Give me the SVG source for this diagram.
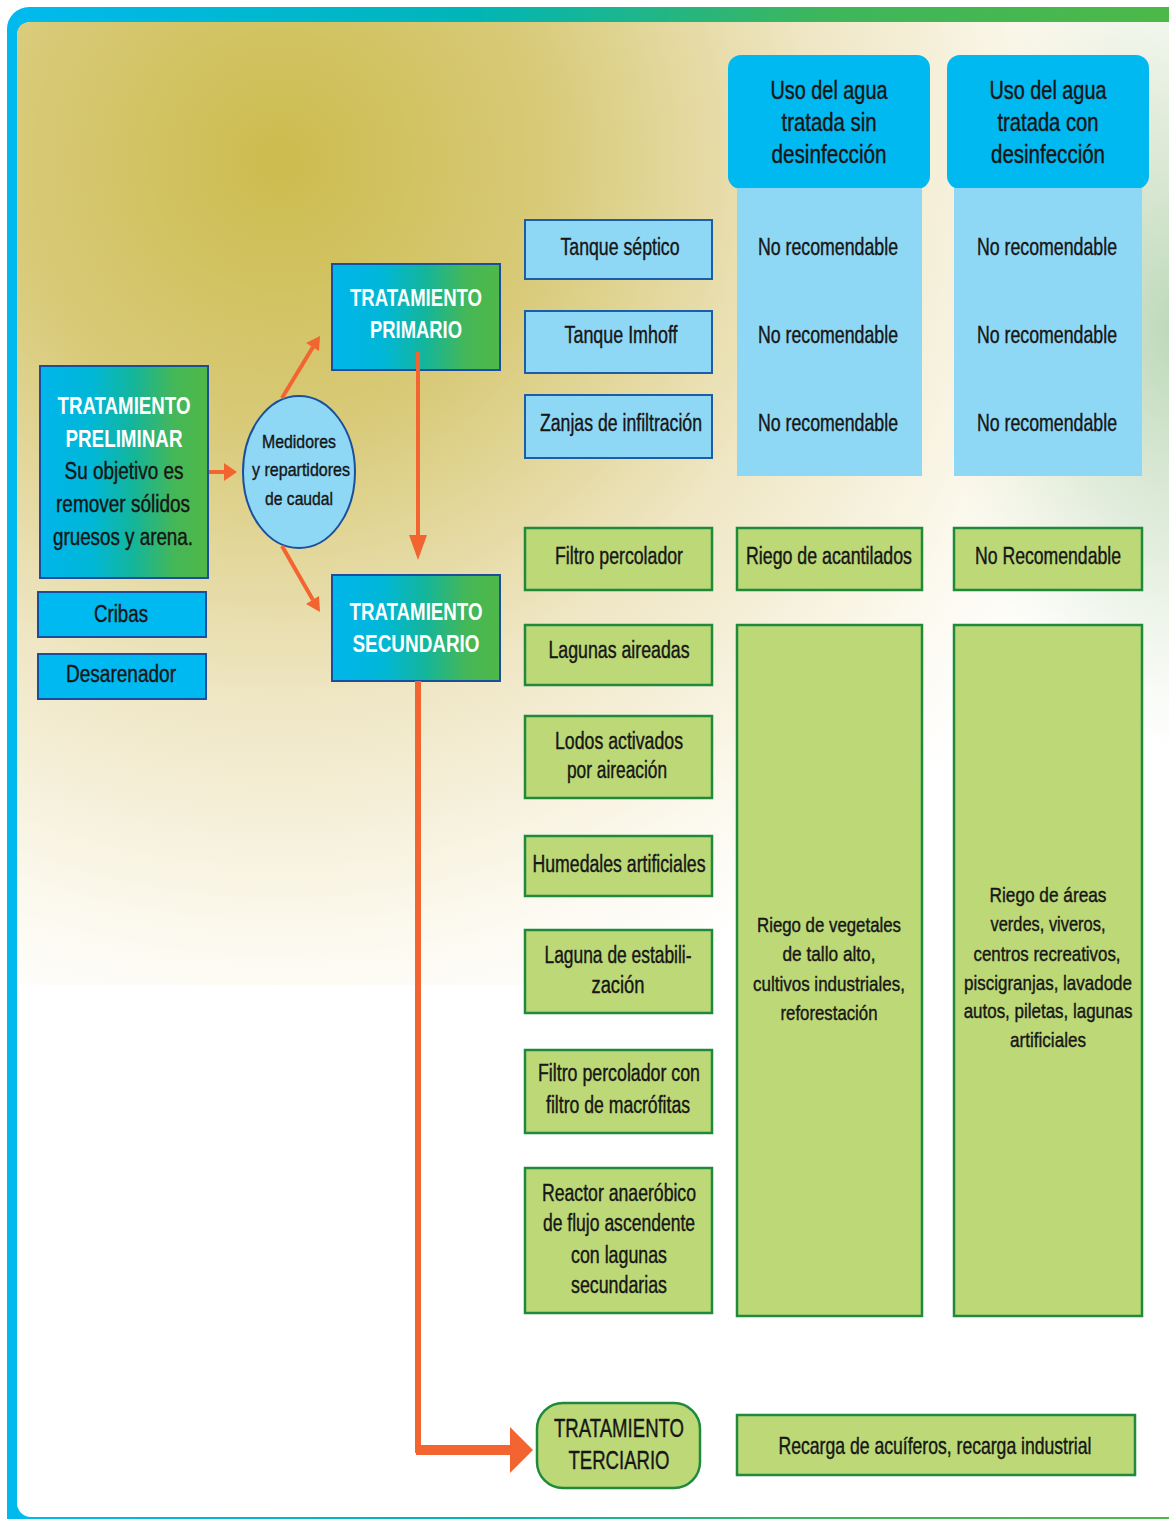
<svg xmlns="http://www.w3.org/2000/svg" width="1169" height="1519" viewBox="0 0 1169 1519">
<defs>
<linearGradient id="frameG" gradientUnits="userSpaceOnUse" x1="0" y1="0" x2="1169" y2="0">
<stop offset="0" stop-color="#00baf0"/>
<stop offset="0.4" stop-color="#00b5b8"/>
<stop offset="0.7" stop-color="#3db65c"/>
<stop offset="1" stop-color="#4cb848"/>
</linearGradient>
<radialGradient id="bgG" gradientUnits="userSpaceOnUse" cx="280" cy="160" r="900">
<stop offset="0" stop-color="#ccbc4e"/>
<stop offset="0.3" stop-color="#d8ca78"/>
<stop offset="0.6" stop-color="#efe6c4"/>
<stop offset="0.85" stop-color="#fbf8ec"/>
<stop offset="1" stop-color="#ffffff"/>
</radialGradient>
<radialGradient id="greenG" gradientUnits="userSpaceOnUse" cx="0" cy="0" r="1" gradientTransform="translate(1175,330) scale(230,420)">
<stop offset="0" stop-color="#9fc79c" stop-opacity="0.7"/>
<stop offset="0.55" stop-color="#b4d0a6" stop-opacity="0.35"/>
<stop offset="1" stop-color="#c8dcb0" stop-opacity="0"/>
</radialGradient>
<linearGradient id="boxG" x1="0" y1="0" x2="1" y2="0">
<stop offset="0" stop-color="#00b6ec"/>
<stop offset="0.3" stop-color="#00b7d8"/>
<stop offset="0.55" stop-color="#13b59c"/>
<stop offset="0.8" stop-color="#45b757"/>
<stop offset="1" stop-color="#4fb848"/>
</linearGradient>
<style>
.t{font-family:'Liberation Sans',Arial,sans-serif;font-size:23px;fill:#161616;stroke:#161616;stroke-width:0.4;text-anchor:middle}
.h{font-size:25px}
.s{font-size:21px}
.m{font-size:19px}
.w{fill:#ffffff;stroke:none;font-weight:bold;font-size:24px}
.lb{fill:#8fd8f5;stroke:#1b5ea6;stroke-width:2}
.gb{fill:#bcd877;stroke:#1f8a3c;stroke-width:2.5}
.tb{fill:url(#boxG);stroke:#1b4f9c;stroke-width:2}
.cb{fill:#00b9f1;stroke:#1b4f9c;stroke-width:2}
.col{fill:#8fd8f5}
.c{fill:none;stroke:#f26530;stroke-width:4}
.ah{fill:#f26530}
</style>
</defs>

<rect x="0" y="0" width="1169" height="1519" fill="#ffffff"/>
<rect id="frame" x="7" y="7" width="1185" height="1535" rx="22" fill="url(#frameG)"/>
<rect x="17" y="22" width="1165" height="1495" rx="14" fill="#ffffff"/>
<path d="M17,36 Q17,22 31,22 L1169,22 L1169,985 L17,985 Z" fill="url(#bgG)"/>
<rect x="900" y="22" width="269" height="760" fill="url(#greenG)"/>

<g id="header-sin">
<rect x="728" y="55" width="202" height="134" rx="13" fill="#00b9f1"/>
<text class="t h" x="829" y="99" textLength="117" lengthAdjust="spacingAndGlyphs">Uso del agua</text>
<text class="t h" x="829" y="131" textLength="95" lengthAdjust="spacingAndGlyphs">tratada sin</text>
<text class="t h" x="829" y="163" textLength="115" lengthAdjust="spacingAndGlyphs">desinfección</text>
</g>
<g id="header-con">
<rect x="947" y="55" width="202" height="134" rx="13" fill="#00b9f1"/>
<text class="t h" x="1048" y="99" textLength="117" lengthAdjust="spacingAndGlyphs">Uso del agua</text>
<text class="t h" x="1048" y="131" textLength="101" lengthAdjust="spacingAndGlyphs">tratada con</text>
<text class="t h" x="1048" y="163" textLength="114" lengthAdjust="spacingAndGlyphs">desinfección</text>
</g>
<g id="col-sin-primario">
<rect class="col" x="737" y="188" width="185" height="288"/>
<text class="t" x="828" y="255" textLength="140" lengthAdjust="spacingAndGlyphs">No recomendable</text>
<text class="t" x="828" y="343" textLength="140" lengthAdjust="spacingAndGlyphs">No recomendable</text>
<text class="t" x="828" y="431" textLength="140" lengthAdjust="spacingAndGlyphs">No recomendable</text>
</g>
<g id="col-con-primario">
<rect class="col" x="954" y="188" width="188" height="288"/>
<text class="t" x="1047" y="255" textLength="140" lengthAdjust="spacingAndGlyphs">No recomendable</text>
<text class="t" x="1047" y="343" textLength="140" lengthAdjust="spacingAndGlyphs">No recomendable</text>
<text class="t" x="1047" y="431" textLength="140" lengthAdjust="spacingAndGlyphs">No recomendable</text>
</g>

<g id="tanque-septico">
<rect class="lb" x="525" y="220" width="187" height="59"/>
<text class="t" x="620" y="255" textLength="119" lengthAdjust="spacingAndGlyphs">Tanque séptico</text>
</g>
<g id="tanque-imhoff">
<rect class="lb" x="525" y="311" width="187" height="62"/>
<text class="t" x="621" y="343" textLength="113" lengthAdjust="spacingAndGlyphs">Tanque Imhoff</text>
</g>
<g id="zanjas">
<rect class="lb" x="525" y="395" width="187" height="63"/>
<text class="t" x="621" y="431" textLength="162" lengthAdjust="spacingAndGlyphs">Zanjas de infiltración</text>
</g>

<g id="filtro-percolador">
<rect class="gb" x="525" y="528" width="187" height="62"/>
<text class="t" x="619" y="564" textLength="128" lengthAdjust="spacingAndGlyphs">Filtro percolador</text>
</g>
<g id="riego-acantilados">
<rect class="gb" x="737" y="528" width="185" height="62"/>
<text class="t" x="829" y="564" textLength="166" lengthAdjust="spacingAndGlyphs">Riego de acantilados</text>
</g>
<g id="no-recomendable-filtro">
<rect class="gb" x="954" y="528" width="188" height="62"/>
<text class="t" x="1048" y="564" textLength="146" lengthAdjust="spacingAndGlyphs">No Recomendable</text>
</g>
<g id="lagunas-aireadas">
<rect class="gb" x="525" y="625" width="187" height="60"/>
<text class="t" x="619" y="658" textLength="141" lengthAdjust="spacingAndGlyphs">Lagunas aireadas</text>
</g>
<g id="uso-sin-secundario">
<rect class="gb" x="737" y="625" width="185" height="691"/>
<text class="t s" x="829" y="932" textLength="144" lengthAdjust="spacingAndGlyphs">Riego de vegetales</text>
<text class="t s" x="829" y="961" textLength="93" lengthAdjust="spacingAndGlyphs">de tallo alto,</text>
<text class="t s" x="829" y="991" textLength="152" lengthAdjust="spacingAndGlyphs">cultivos industriales,</text>
<text class="t s" x="829" y="1020" textLength="97" lengthAdjust="spacingAndGlyphs">reforestación</text>
</g>
<g id="uso-con-secundario">
<rect class="gb" x="954" y="625" width="188" height="691"/>
<text class="t s" x="1048" y="902" textLength="117" lengthAdjust="spacingAndGlyphs">Riego de áreas</text>
<text class="t s" x="1048" y="931" textLength="115" lengthAdjust="spacingAndGlyphs">verdes, viveros,</text>
<text class="t s" x="1047" y="961" textLength="147" lengthAdjust="spacingAndGlyphs">centros recreativos,</text>
<g transform="translate(1048,990) scale(0.75,1)"><text class="t s" x="0" y="0" textLength="224" lengthAdjust="spacingAndGlyphs">piscigranjas, lavadode</text></g>
<g transform="translate(1048,1018) scale(0.75,1)"><text class="t s" x="0" y="0" textLength="225" lengthAdjust="spacingAndGlyphs">autos, piletas, lagunas</text></g>
<text class="t s" x="1048" y="1047" textLength="76" lengthAdjust="spacingAndGlyphs">artificiales</text>
</g>
<g id="lodos-activados">
<rect class="gb" x="525" y="716" width="187" height="82"/>
<text class="t" x="619" y="749" textLength="128" lengthAdjust="spacingAndGlyphs">Lodos activados</text>
<text class="t" x="617" y="778" textLength="100" lengthAdjust="spacingAndGlyphs">por aireación</text>
</g>
<g id="humedales">
<rect class="gb" x="525" y="836" width="187" height="60"/>
<text class="t" x="619" y="872" textLength="173" lengthAdjust="spacingAndGlyphs">Humedales artificiales</text>
</g>
<g id="laguna-estabilizacion">
<rect class="gb" x="525" y="930" width="187" height="83"/>
<text class="t" x="618" y="963" textLength="147" lengthAdjust="spacingAndGlyphs">Laguna de estabili-</text>
<text class="t" x="618" y="993" textLength="53" lengthAdjust="spacingAndGlyphs">zación</text>
</g>
<g id="filtro-macrofitas">
<rect class="gb" x="525" y="1050" width="187" height="83"/>
<text class="t" x="619" y="1081" textLength="162" lengthAdjust="spacingAndGlyphs">Filtro percolador con</text>
<text class="t" x="618" y="1113" textLength="144" lengthAdjust="spacingAndGlyphs">filtro de macrófitas</text>
</g>
<g id="reactor-anaerobico">
<rect class="gb" x="525" y="1168" width="187" height="145"/>
<text class="t" x="619" y="1201" textLength="154" lengthAdjust="spacingAndGlyphs">Reactor anaeróbico</text>
<text class="t" x="619" y="1231" textLength="152" lengthAdjust="spacingAndGlyphs">de flujo ascendente</text>
<text class="t" x="619" y="1263" textLength="96" lengthAdjust="spacingAndGlyphs">con lagunas</text>
<text class="t" x="619" y="1293" textLength="96" lengthAdjust="spacingAndGlyphs">secundarias</text>
</g>

<g id="recarga">
<rect class="gb" x="737" y="1415" width="398" height="60"/>
<g transform="translate(935,1454) scale(0.7,1)"><text class="t" x="0" y="0" textLength="447" lengthAdjust="spacingAndGlyphs">Recarga de acuíferos, recarga industrial</text></g>
</g>
<g id="tratamiento-terciario">
<rect class="gb" x="537" y="1403" width="163" height="85" rx="26"/>
<text class="t h" x="619" y="1437" textLength="130" lengthAdjust="spacingAndGlyphs">TRATAMIENTO</text>
<text class="t h" x="619" y="1469" textLength="101" lengthAdjust="spacingAndGlyphs">TERCIARIO</text>
</g>

<g id="tratamiento-preliminar">
<rect class="tb" x="40" y="366" width="168" height="212"/>
<text class="t w" x="124" y="414" textLength="133" lengthAdjust="spacingAndGlyphs">TRATAMIENTO</text>
<text class="t w" x="124" y="447" textLength="117" lengthAdjust="spacingAndGlyphs">PRELIMINAR</text>
<text class="t" x="124" y="479" textLength="119" lengthAdjust="spacingAndGlyphs">Su objetivo es</text>
<text class="t" x="123" y="512" textLength="134" lengthAdjust="spacingAndGlyphs">remover sólidos</text>
<text class="t" x="123" y="545" textLength="140" lengthAdjust="spacingAndGlyphs">gruesos y arena.</text>
</g>
<g id="cribas">
<rect class="cb" x="38" y="592" width="168" height="45"/>
<text class="t" x="121" y="622" textLength="54" lengthAdjust="spacingAndGlyphs">Cribas</text>
</g>
<g id="desarenador">
<rect class="cb" x="38" y="654" width="168" height="45"/>
<text class="t" x="121" y="682" textLength="110" lengthAdjust="spacingAndGlyphs">Desarenador</text>
</g>
<g id="medidores">
<ellipse cx="299" cy="472" rx="56" ry="76" fill="#8fd8f5" stroke="#1b4f9c" stroke-width="2"/>
<text class="t m" x="299" y="448" textLength="74" lengthAdjust="spacingAndGlyphs">Medidores</text>
<text class="t m" x="301" y="476" textLength="98" lengthAdjust="spacingAndGlyphs">y repartidores</text>
<text class="t m" x="299" y="505" textLength="68" lengthAdjust="spacingAndGlyphs">de caudal</text>
</g>
<g id="tratamiento-primario">
<rect class="tb" x="332" y="264" width="168" height="106"/>
<text class="t w" x="416" y="306" textLength="132" lengthAdjust="spacingAndGlyphs">TRATAMIENTO</text>
<text class="t w" x="416" y="338" textLength="92" lengthAdjust="spacingAndGlyphs">PRIMARIO</text>
</g>
<g id="tratamiento-secundario">
<rect class="tb" x="332" y="575" width="168" height="106"/>
<text class="t w" x="416" y="620" textLength="133" lengthAdjust="spacingAndGlyphs">TRATAMIENTO</text>
<text class="t w" x="416" y="652" textLength="127" lengthAdjust="spacingAndGlyphs">SECUNDARIO</text>
</g>

<g id="connectors">
<line class="c" x1="209" y1="472" x2="226" y2="472"/>
<path class="ah" d="M224,463 L237,472 L224,481 Z"/>
<line class="c" x1="282" y1="398" x2="313" y2="347"/>
<path class="ah" d="M306,343 L320,336 L319,351 Z"/>
<line class="c" x1="282" y1="546" x2="313" y2="600"/>
<path class="ah" d="M306,604 L320,612 L319,596 Z"/>
<line class="c" x1="418" y1="352" x2="418" y2="538"/>
<path class="ah" d="M409,535 L427,535 L418,560 Z"/>
<path d="M418,681 L418,1450 L512,1450" fill="none" stroke="#f26530" stroke-width="6"/>
<line x1="416" y1="1450" x2="512" y2="1450" stroke="#f26530" stroke-width="10"/>
<path class="ah" d="M510,1427 L533,1450 L510,1473 Z"/>
</g>
</svg>
